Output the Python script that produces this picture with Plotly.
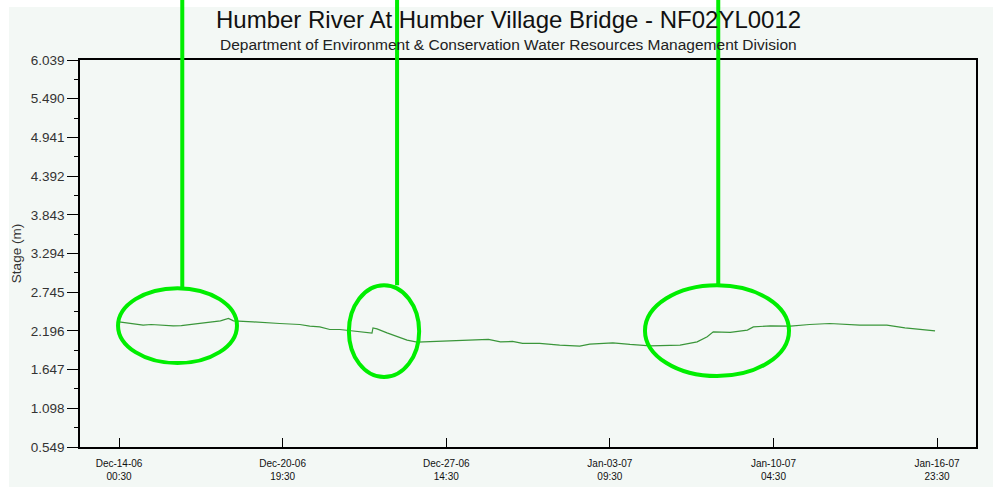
import plotly.graph_objects as go

# ---- data ----
times = [
    "2006-12-14 00:30", "2006-12-14 12:30", "2006-12-15 00:30", "2006-12-15 08:30",
    "2006-12-15 17:30", "2006-12-16 06:30", "2006-12-16 14:30",
    "2006-12-16 23:30", "2006-12-17 16:30", "2006-12-18 05:30", "2006-12-18 13:30",
    "2006-12-18 18:30", "2006-12-19 14:00", "2006-12-19 20:30", "2006-12-20 16:30",
    "2006-12-21 12:30", "2006-12-21 22:30", "2006-12-22 08:30", "2006-12-22 18:30",
    "2006-12-23 04:30", "2006-12-23 14:30", "2006-12-24 10:30", "2006-12-24 12:30",
    "2006-12-24 13:30", "2006-12-24 17:30", "2006-12-25 03:30", "2006-12-25 13:30",
    "2006-12-25 23:30", "2006-12-26 09:30", "2006-12-27 08:30", "2006-12-28 03:30",
    "2006-12-28 17:30",
    "2006-12-29 08:30", "2006-12-29 20:30", "2006-12-30 08:30", "2006-12-30 18:30",
    "2006-12-31 11:30",
    "2007-01-01 07:30", "2007-01-02 03:30", "2007-01-02 13:30", "2007-01-03 12:30",
    "2007-01-04 05:30", "2007-01-05 01:30", "2007-01-06 07:30", "2007-01-07 00:30",
    "2007-01-07 10:30", "2007-01-07 16:30", "2007-01-08 09:30", "2007-01-09 02:30",
    "2007-01-09 08:30", "2007-01-10 01:30", "2007-01-10 21:30", "2007-01-11 16:30",
    "2007-01-12 12:30", "2007-01-13 18:30", "2007-01-14 21:30", "2007-01-15 15:30",
    "2007-01-16 21:30",
]
stage = [
    2.324, 2.300, 2.277, 2.287,
    2.277, 2.267, 2.272,
    2.287, 2.324, 2.338, 2.372,
    2.338, 2.324, 2.316, 2.301,
    2.287, 2.263, 2.253, 2.216,
    2.216, 2.197, 2.168, 2.165,
    2.239, 2.225, 2.168, 2.122,
    2.065, 2.037, 2.046, 2.055,
    2.065,
    2.075, 2.040, 2.046, 2.018,
    2.018,
    1.994, 1.980, 2.008, 2.027,
    2.004, 1.984, 1.994, 2.040,
    2.112, 2.182, 2.174, 2.207,
    2.253, 2.267, 2.263, 2.287,
    2.301, 2.277, 2.277, 2.239,
    2.197,
]

y_tick_vals = [0.549, 1.098, 1.647, 2.196, 2.745, 3.294, 3.843, 4.392, 4.941, 5.490, 6.039]
y_tick_text = ["0.549", "1.098", "1.647", "2.196", "2.745", "3.294", "3.843", "4.392", "4.941", "5.490", "6.039"]
y_minor_vals = [0.8235, 1.3725, 1.9215, 2.4705, 3.0195, 3.5685, 4.1175, 4.6665, 5.2155, 5.7645]

x_tick_vals = ["2006-12-14 00:30", "2006-12-20 19:30", "2006-12-27 14:30",
               "2007-01-03 09:30", "2007-01-10 04:30", "2007-01-16 23:30"]
x_tick_text = ["Dec-14-06<br>00:30", "Dec-20-06<br>19:30", "Dec-27-06<br>14:30",
               "Jan-03-07<br>09:30", "Jan-10-07<br>04:30", "Jan-16-07<br>23:30"]

x_range = ["2006-12-12 09:36", "2007-01-18 14:18"]
y_range = [0.549, 6.039]

# highlight ellipses: (x0, x1, y0, y1) and pointer lines (x)
ellipses = [
    ("2006-12-13 23:30", "2006-12-18 22:00", 1.739, 2.802),
    ("2006-12-23 13:30", "2006-12-26 11:30", 1.541, 2.844),
    ("2007-01-04 20:30", "2007-01-10 20:00", 1.555, 2.844),
]
pointer_x = ["2006-12-16 15:30", "2006-12-25 13:30", "2007-01-07 21:30"]

GREEN = "#00ee00"
FONT = "Liberation Sans, Arial, sans-serif"

fig = go.Figure()
fig.add_trace(go.Scatter(
    x=times, y=stage, mode="lines",
    line=dict(color="#3a963a", width=1.2),
    hoverinfo="x+y", showlegend=False,
))

shapes = []
# white strip top/left and light background panel
shapes.append(dict(type="rect", xref="paper", yref="paper", layer="below",
                   x0=(9 - 80) / 896, x1=(993 - 80) / 896,
                   y0=(447 - 487) / 387, y1=(447 - 7) / 387,
                   fillcolor="#f3f8f5", line=dict(width=0)))
for (x0, x1, y0, y1) in ellipses:
    shapes.append(dict(type="circle", xref="x", yref="y", x0=x0, x1=x1, y0=y0, y1=y1,
                       line=dict(color=GREEN, width=4), layer="above"))
for px, (x0, x1, y0, y1) in zip(pointer_x, ellipses):
    ytop = (y1 - y_range[0]) / (y_range[1] - y_range[0])
    shapes.append(dict(type="line", xref="x", yref="paper", x0=px, x1=px,
                       y0=ytop, y1=1.3, line=dict(color=GREEN, width=4), layer="above"))

fig.update_layout(
    width=993, height=487,
    margin=dict(l=80, r=17, t=60, b=40, autoexpand=False),
    paper_bgcolor="#ffffff",
    plot_bgcolor="#f7fcf9",
    font=dict(family=FONT, color="#222222"),
    shapes=shapes,
    annotations=[
        dict(text="Humber River At Humber Village Bridge - NF02YL0012",
             xref="paper", yref="paper", x=(508 - 80) / 896, y=(447 - 20) / 387,
             xanchor="center", yanchor="middle", showarrow=False,
             font=dict(size=24, color="#111111", family=FONT)),
        dict(text="Department of Environment &amp; Conservation Water Resources Management Division",
             xref="paper", yref="paper", x=(508 - 80) / 896, y=(447 - 44) / 387,
             xanchor="center", yanchor="middle", showarrow=False,
             font=dict(size=15.5, color="#222222", family=FONT)),
    ],
    xaxis=dict(
        type="date", range=x_range, automargin=False,
        tickmode="array", tickvals=x_tick_vals, ticktext=x_tick_text,
        ticks="inside", ticklen=9, tickcolor="#000000", tickwidth=1,
        tickfont=dict(size=10, color="#111111", family=FONT),
        ticklabelstandoff=6,
        showline=True, linecolor="#000000", linewidth=1.5, mirror=True,
        showgrid=False, zeroline=False,
    ),
    yaxis=dict(
        range=y_range, automargin=False,
        tickmode="array", tickvals=y_tick_vals, ticktext=y_tick_text,
        ticks="outside", ticklen=11, tickcolor="#000000", tickwidth=1,
        tickfont=dict(size=13.5, color="#333333", family=FONT),
        minor=dict(tickmode="array", tickvals=y_minor_vals, ticks="outside",
                   ticklen=4, tickcolor="#000000", showgrid=False),
        showline=True, linecolor="#000000", linewidth=1.5, mirror=True,
        showgrid=False, zeroline=False,
        title=dict(text="Stage (m)", font=dict(size=13.5, color="#333333", family=FONT),
                   standoff=6),
    ),
)

fig.write_html(
    "out.html",
    config={"displayModeBar": False},
    post_script="document.body.style.margin='0px';document.body.style.padding='0px';"
                "document.body.style.overflow='hidden';",
)
